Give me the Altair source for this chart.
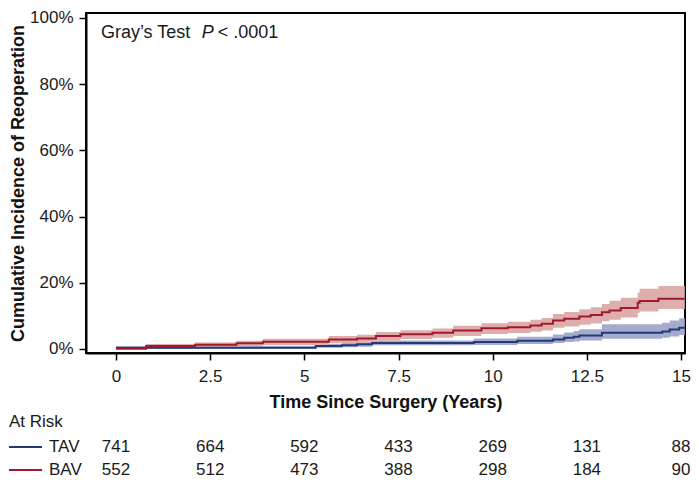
import altair as alt
import pandas as pd

# ---- data ----
tav_time = [0, 0.8, 5.3, 6.0, 6.4, 6.8, 9.5, 10.65, 11.6, 11.9, 12.15, 12.3, 12.9, 14.5, 14.7, 14.95, 15.1]
tav_est = [0.4, 0.4, 0.9, 1.1, 1.4, 1.8, 2.1, 2.5, 2.9, 3.4, 3.7, 4.1, 4.9, 5.3, 5.9, 6.4, 6.4]
tav_lo = [0.1, 0.1, 0.4, 0.5, 0.7, 1.1, 1.2, 1.5, 1.8, 2.1, 2.3, 2.6, 3.1, 3.4, 3.8, 4.2, 4.2]
tav_hi = [0.8, 0.8, 1.5, 1.8, 2.2, 2.6, 3.2, 3.7, 4.4, 5.0, 5.4, 6.0, 7.5, 7.9, 8.6, 9.3, 9.3]

bav_time = [0, 0.8, 2.1, 3.2, 3.9, 5.65, 6.4, 6.9, 7.55, 8.4, 8.95, 9.7, 10.4, 11.0, 11.3, 11.6,
            11.9, 12.3, 12.6, 12.9, 13.1, 13.4, 13.85, 13.9, 14.4, 15.1]
bav_est = [0.1, 0.9, 1.3, 1.7, 2.2, 2.9, 3.2, 3.9, 4.45, 4.9, 5.6, 6.3, 6.6, 7.1, 7.6, 8.6,
           9.1, 9.8, 10.3, 11.1, 11.6, 12.4, 14.0, 14.5, 15.2, 15.2]
bav_lo = [0.0, 0.3, 0.6, 0.9, 1.2, 1.7, 1.9, 2.5, 3.0, 3.4, 3.9, 4.5, 4.8, 5.2, 5.6, 6.4,
          6.8, 7.3, 7.7, 8.4, 8.8, 9.5, 10.9, 11.3, 12.1, 12.1]
bav_hi = [0.4, 1.5, 2.0, 2.5, 3.1, 3.9, 4.3, 5.1, 5.7, 6.2, 7.0, 7.8, 8.2, 8.8, 9.4, 10.6,
          11.2, 12.0, 12.6, 13.6, 14.6, 15.5, 17.0, 18.2, 19.0, 19.0]

year_ticks = [0, 2.5, 5, 7.5, 10, 12.5, 15]
tav_at_risk = [741, 664, 592, 433, 269, 131, 88]
bav_at_risk = [552, 512, 473, 388, 298, 184, 90]
pct_ticks = [0, 20, 40, 60, 80, 100]

groups = ["TAV", "BAV"]
line_colors = ["#23397A", "#A3182E"]
band_colors = ["#A4ABCD", "#DDAEAB"]

annot_text = ["Gray\u2019s Test", "P", "< .0001"]
annot_x = [-0.4, 2.28, 2.7]
annot_y = [95.6, 95.6, 95.6]
annot_style = ["normal", "italic", "normal"]

FONT = "Liberation Sans"

tav_df = pd.DataFrame({"t": tav_time, "est": tav_est, "lo": tav_lo, "hi": tav_hi})
bav_df = pd.DataFrame({"t": bav_time, "est": bav_est, "lo": bav_lo, "hi": bav_hi})

x_scale = alt.Scale(domain=[-0.796, 15.105], nice=False, zero=False)
y_scale = alt.Scale(domain=[-1.21, 101.51], nice=False, zero=False)

x_axis = alt.Axis(values=year_ticks, labelExpr="'' + datum.value",
                  title="Time Since Surgery (Years)", titleY=49, titleBaseline="middle",
                  grid=False, labelPadding=8)
y_axis = alt.Axis(values=pct_ticks, labelExpr="datum.value + '%'",
                  title="Cumulative Incidence of Reoperation", titleX=-68,
                  titleBaseline="middle", grid=False, labelPadding=6)


def X(field="t"):
    return alt.X(f"{field}:Q", scale=x_scale, axis=x_axis)


def Y(field):
    return alt.Y(f"{field}:Q", scale=y_scale, axis=y_axis)


layers = []
for df, bc in [(tav_df, band_colors[0]), (bav_df, band_colors[1])]:
    layers.append(alt.Chart(df).mark_area(interpolate="step-after", color=bc, opacity=1)
                  .encode(x=X(), y=Y("lo"), y2="hi:Q"))
for df, lc in [(tav_df, line_colors[0]), (bav_df, line_colors[1])]:
    layers.append(alt.Chart(df).mark_line(interpolate="step-after", color=lc, strokeWidth=2)
                  .encode(x=X(), y=Y("est")))

annot_df = pd.DataFrame({"text": annot_text, "t": annot_x, "y": annot_y, "style": annot_style})
for sty in ["normal", "italic"]:
    layers.append(alt.Chart(annot_df[annot_df["style"] == sty]).mark_text(
        align="left", baseline="middle", fontSize=18, font=FONT, fontStyle=sty, color="#1a1a1a")
        .encode(x=X(), y=Y("y"), text="text:N"))

# At-risk table
row_y = [434, 457]
for vals, ypx in zip([tav_at_risk, bav_at_risk], row_y):
    rdf = pd.DataFrame({"t": year_ticks, "n": vals})
    layers.append(alt.Chart(rdf).mark_text(align="center", baseline="middle", fontSize=17,
                                           font=FONT, color="#1a1a1a")
                  .encode(x=X(), y=alt.value(ypx), text="n:Q"))

layers.append(alt.Chart(pd.DataFrame({"g": ["At Risk"]})).mark_text(
    align="left", baseline="middle", fontSize=17, font=FONT, color="#1a1a1a")
    .encode(x=alt.value(-77), y=alt.value(409), text="g:N"))
for g, lc, ypx in zip(groups, line_colors, row_y):
    gdf = pd.DataFrame({"g": [g]})
    layers.append(alt.Chart(gdf).mark_text(align="left", baseline="middle", fontSize=17,
                                           font=FONT, color="#1a1a1a")
                  .encode(x=alt.value(-37), y=alt.value(ypx), text="g:N"))
    layers.append(alt.Chart(gdf).mark_rule(color=lc, strokeWidth=2)
                  .encode(x=alt.value(-77), x2=alt.value(-44), y=alt.value(ypx)))

chart = alt.layer(*layers).properties(
    width=599, height=340,
    autosize=alt.AutoSizeParams(type="none"),
    padding={"left": 78, "top": 5, "right": 6, "bottom": 126},
).configure_view(stroke="black", strokeWidth=2).configure_axis(
    labelFont=FONT, titleFont=FONT, labelFontSize=17, titleFontSize=18,
    titleFontWeight="bold", labelColor="#1a1a1a", titleColor="#111111",
    domainColor="black", domainWidth=2, tickColor="black", tickWidth=1.5, tickSize=7,
)

chart.save("out.html", embed_options={"renderer": "svg", "actions": False})
